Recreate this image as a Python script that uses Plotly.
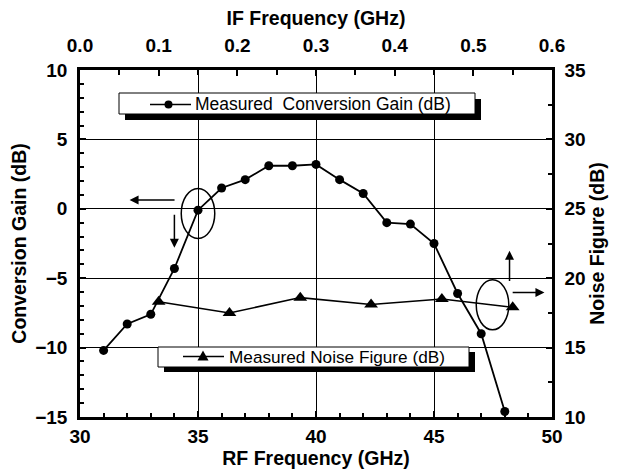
import plotly.graph_objects as go

# Conversion gain vs RF frequency
rf_ghz = [31, 32, 33, 34, 35, 36, 37, 38, 39, 40, 41, 42, 43, 44, 45, 46, 47, 48]
conv_gain_db = [-10.2, -8.3, -7.6, -4.3, -0.1, 1.5, 2.1, 3.1, 3.1, 3.2,
                2.1, 1.1, -1.0, -1.1, -2.5, -6.1, -9.0, -14.6]

# Noise figure vs IF frequency
if_ghz = [0.10, 0.19, 0.28, 0.37, 0.46, 0.55]
noise_fig_db = [18.3, 17.5, 18.6, 18.1, 18.5, 17.9]

FONT = "Liberation Sans, Arial, Helvetica, sans-serif"
W, H = 617, 476
L, R, T, B = 80, 65, 70, 59

fig = go.Figure()

fig.add_trace(go.Scatter(
    x=rf_ghz, y=conv_gain_db, mode="lines+markers",
    line=dict(color="black", width=1.8),
    marker=dict(symbol="circle", size=9, color="black"),
    showlegend=False, cliponaxis=False,
))
fig.add_trace(go.Scatter(
    x=if_ghz, y=noise_fig_db, xaxis="x2", yaxis="y2", mode="lines+markers",
    line=dict(color="black", width=1.5),
    marker=dict(symbol="triangle-up", size=12, color="black"),
    showlegend=False, cliponaxis=False,
))

tick_font = dict(family=FONT, size=19, color="black", weight="bold")
title_font = dict(family=FONT, size=19.5, color="black", weight="bold")
axis_common = dict(showline=True, linecolor="black", linewidth=2.5,
                   ticks="inside", tickcolor="black", tickwidth=1.5,
                   tickfont=tick_font, zeroline=False)

fig.update_layout(
    width=W, height=H,
    margin=dict(l=L, r=R, t=T, b=B, pad=0),
    paper_bgcolor="white", plot_bgcolor="white",
    xaxis=dict(range=[30, 50], dtick=5, ticklen=6, ticklabelstandoff=0,
               minor=dict(dtick=1, ticks="inside", ticklen=4, tickcolor="black", tickwidth=1.5),
               showgrid=True, gridcolor="black", gridwidth=1,
               title=dict(text="RF Frequency (GHz)", font=title_font, standoff=0),
               **axis_common),
    xaxis2=dict(range=[0, 0.6], dtick=0.1, tickformat=".1f", ticklen=6, ticklabelstandoff=8,
                minor=dict(dtick=0.05, ticks="inside", ticklen=5, tickcolor="black", tickwidth=1.5),
                overlaying="x", side="top", showgrid=False,
                title=dict(text="IF Frequency (GHz)", font=title_font, standoff=4),
                **axis_common),
    yaxis=dict(range=[-15, 10], dtick=5, ticklen=6, ticklabelstandoff=6,
               minor=dict(dtick=1, ticks="inside", ticklen=4, tickcolor="black", tickwidth=1.5),
               showgrid=True, gridcolor="black", gridwidth=1,
               title=dict(text="Conversion Gain (dB)", font=title_font, standoff=4),
               **axis_common),
    yaxis2=dict(range=[10, 35], dtick=5, ticklen=6, ticklabelstandoff=6,
                minor=dict(dtick=2.5, ticks="inside", ticklen=4, tickcolor="black", tickwidth=1.5),
                overlaying="y", side="right", showgrid=False,
                title=dict(text="Noise Figure (dB)", font=title_font, standoff=5),
                **axis_common),
)

pw, ph = W - L - R, H - T - B


def px_x(p):
    return (p - L) / pw


def px_y(p):
    return (H - B - p) / ph


def legend_box(x0, x1, y0, y1, dx, dy):
    # drop shadow then white box, in pixel units converted to paper fractions
    fig.add_shape(type="rect", xref="paper", yref="paper", layer="above",
                  x0=px_x(x0 + dx), x1=px_x(x1 + dx), y0=px_y(y1 + dy), y1=px_y(y0 + dy),
                  fillcolor="black", line=dict(width=0))
    fig.add_shape(type="rect", xref="paper", yref="paper", layer="above",
                  x0=px_x(x0), x1=px_x(x1), y0=px_y(y1), y1=px_y(y0),
                  fillcolor="white", line=dict(color="black", width=1))


legend_box(119, 475, 93, 114, 6, 6)
legend_box(158, 469, 347, 367, 6, 5)

# legend sample: line with circle
cy = 104.5
fig.add_shape(type="line", xref="paper", yref="paper", layer="above",
              x0=px_x(150), x1=px_x(191), y0=px_y(cy), y1=px_y(cy),
              line=dict(color="black", width=1.5))
fig.add_shape(type="circle", xref="paper", yref="paper", layer="above",
              x0=px_x(164.5), x1=px_x(172.5), y0=px_y(cy + 4), y1=px_y(cy - 4),
              fillcolor="black", line=dict(width=0))
fig.add_annotation(xref="paper", yref="paper", x=px_x(193), y=px_y(cy),
                   xanchor="left", yanchor="middle", showarrow=False,
                   text="Measured  Conversion Gain (dB)",
                   font=dict(family=FONT, size=17.5, color="black"))

# legend sample: line with triangle
ty = 356.5
fig.add_shape(type="line", xref="paper", yref="paper", layer="above",
              x0=px_x(183), x1=px_x(224), y0=px_y(ty), y1=px_y(ty),
              line=dict(color="black", width=1.5))
tx = 203
fig.add_shape(type="path", xref="paper", yref="paper", layer="above",
              path="M {} {} L {} {} L {} {} Z".format(
                  px_x(tx - 5.5), px_y(ty + 4), px_x(tx + 5.5), px_y(ty + 4), px_x(tx), px_y(ty - 6)),
              fillcolor="black", line=dict(width=0))
fig.add_annotation(xref="paper", yref="paper", x=px_x(227), y=px_y(ty),
                   xanchor="left", yanchor="middle", showarrow=False,
                   text="Measured Noise Figure (dB)",
                   font=dict(family=FONT, size=17.2, color="black"))

# ellipses marking which curve belongs to which axis
fig.add_shape(type="circle", xref="x", yref="y", x0=34.29, x1=35.71, y0=-2.14, y1=1.47,
              line=dict(color="black", width=1.5), layer="above")
fig.add_shape(type="circle", xref="x", yref="y", x0=46.79, x1=48.17, y0=-8.72, y1=-5.12,
              line=dict(color="black", width=1.5), layer="above")

arrow = dict(text="", showarrow=True, arrowhead=2, arrowsize=1.2, arrowwidth=1.5,
             arrowcolor="black", xref="x", yref="y", axref="x", ayref="y")
fig.add_annotation(x=32.1, y=0.63, ax=34.07, ay=0.63, **arrow)
fig.add_annotation(x=34.0, y=-2.8, ax=34.0, ay=-0.32, **arrow)
fig.add_annotation(x=48.2, y=-3.03, ax=48.2, ay=-5.31, **arrow)
fig.add_annotation(x=49.68, y=-6.03, ax=48.27, ay=-6.03, **arrow)

fig.write_html("out.html")
